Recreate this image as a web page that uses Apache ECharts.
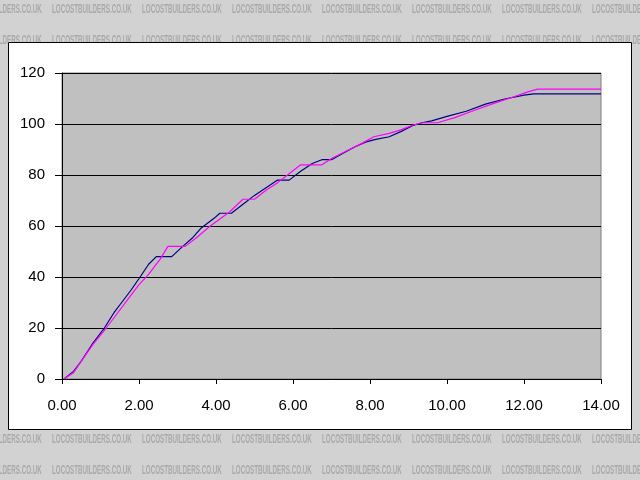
<!DOCTYPE html>
<html>
<head>
<meta charset="utf-8">
<script src="https://cdn.jsdelivr.net/npm/echarts@6/dist/echarts.min.js"></script>
<style>
html,body{margin:0;padding:0;background:#d2d2d2;}
#c{width:640px;height:480px;}
</style>
</head>
<body>
<div id="c"></div>
<script>
// Series values: [x, y]
const blueSeries = [
  [0.05,0],[0.3,3],[0.5,7],[0.8,14],[1.1,20],[1.35,26],[1.55,30],[1.8,35],[2.05,40.5],[2.25,45],[2.45,48],[2.85,48],
  [3.1,51.5],[3.4,55.5],[3.6,59],[3.95,63],[4.1,65],[4.4,65],[4.7,68.5],[5.0,72],[5.3,75],[5.6,78],[5.9,78],
  [6.2,81.5],[6.5,84.5],[6.75,86],[7.0,86],[7.3,88.5],[7.6,91],[7.9,93],[8.15,94],[8.5,95],[8.8,97],[9.1,99.3],
  [9.35,100.5],[9.6,101.2],[10.0,103],[10.5,105],[11.0,107.8],[11.5,109.8],[12.0,111.3],[12.25,111.8],[14,111.8]
];
const magentaSeries = [
  [0.05,0],[0.3,2.5],[0.5,7],[0.8,13.5],[1.15,20],[1.4,25],[1.7,31],[2.0,37],[2.25,41],[2.55,47],[2.75,52],[3.2,52],
  [3.5,55.5],[3.85,60],[4.35,65.5],[4.7,70.5],[5.0,70.5],[5.3,74],[5.6,77],[5.9,80.5],[6.2,84],[6.75,84],
  [7.0,86.5],[7.4,89.5],[7.8,92.5],[8.1,95],[8.5,96.3],[8.8,97.7],[9.1,99.5],[9.35,100.5],[9.75,100.5],
  [10.2,102.5],[10.7,105.3],[11.2,108],[11.7,110.5],[12.1,112.6],[12.35,113.7],[14,113.7]
];
const xTickLabels = ['0.00','2.00','4.00','6.00','8.00','10.00','12.00','14.00'];
const yTickLabels = ['0','20','40','60','80','100','120'];
const watermarkText = 'LOCOSTBUILDERS.CO.UK';

const chart = echarts.init(document.getElementById('c'), null, {renderer:'canvas'});

// watermark rows
const wm = [];
const rows = [9, 40, 439, 470];
rows.forEach(function(y){
  for (let x = -38; x < 660; x += 90) {
    wm.push({
      type:'text', silent:true, z:-10, x:x, y:y, scaleX:0.52, scaleY:1.1,
      style:{text:watermarkText, fill:'#a9a9a9', font:'bold 12px "Liberation Sans", Arial, sans-serif',
        verticalAlign:'middle', align:'left'}
    });
  }
});

chart.setOption({
  animation:false,
  backgroundColor:'#d2d2d2',
  graphic:[
    ...wm,
    {type:'rect', z:-5, shape:{x:8.5,y:42.5,width:623,height:387}, style:{fill:'#ffffff', stroke:'#000000', lineWidth:1}},
    {type:'rect', z:-4, shape:{x:62,y:73,width:539,height:306}, style:{fill:'#c0c0c0', stroke:'#808080', lineWidth:1}}
  ],
  grid:{left:62, right:39, top:73, bottom:101, show:false},
  xAxis:{
    type:'value', min:0, max:14, interval:2,
    axisLine:{show:true, onZero:false, lineStyle:{color:'#000', width:1}},
    axisTick:{show:true, length:5, lineStyle:{color:'#000'}},
    splitLine:{show:false},
    axisLabel:{margin:19, color:'#000', fontSize:15, fontFamily:'"Liberation Sans", Arial, sans-serif',
      formatter:function(v){ return xTickLabels[Math.round(v/2)]; }}
  },
  yAxis:{
    type:'value', min:0, max:120, interval:20,
    axisLine:{show:true, lineStyle:{color:'#000', width:1}},
    axisTick:{show:true, length:7, lineStyle:{color:'#000'}},
    splitLine:{show:true, lineStyle:{color:'#000', width:1}},
    axisLabel:{margin:17, color:'#000', fontSize:15, fontFamily:'"Liberation Sans", Arial, sans-serif',
      formatter:function(v){ return yTickLabels[Math.round(v/20)]; }}
  },
  series:[
    {type:'line', data:blueSeries, showSymbol:false, symbol:'none', lineStyle:{color:'#000080', width:1.2}, z:3},
    {type:'line', data:magentaSeries, showSymbol:false, symbol:'none', lineStyle:{color:'#ff00ff', width:1.2}, z:4}
  ]
});
</script>
</body>
</html>
